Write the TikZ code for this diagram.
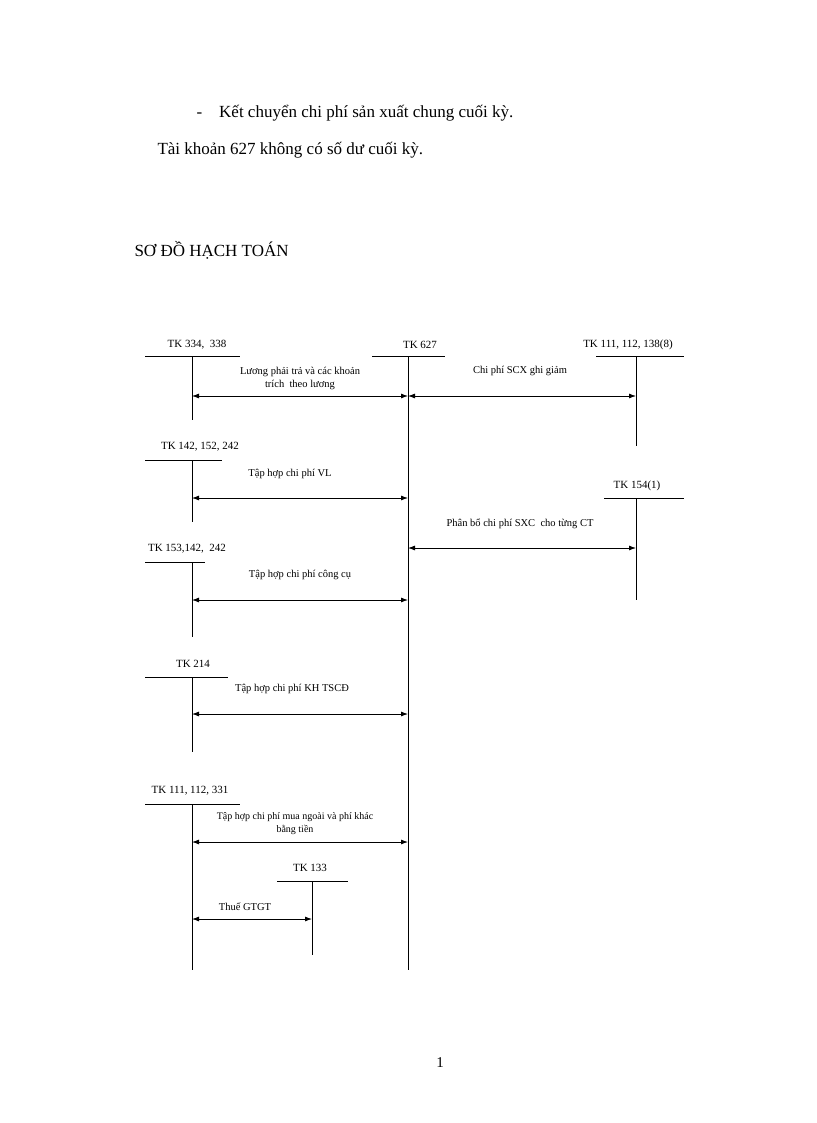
\documentclass[tikz,border=0pt]{standalone}
\usepackage{fontspec}
\setmainfont{Liberation Serif}
\usetikzlibrary{arrows.meta}
\begin{document}
\begin{tikzpicture}[x=1pt,y=-1pt,
  ln/.style={line width=0.8pt},
  ar/.style={line width=0.8pt,{Latex[length=7pt,width=5pt]}-{Latex[length=7pt,width=5pt]}},
  lb/.style={font=\fontsize{11}{12}\selectfont,inner sep=0pt},
  sm/.style={font=\fontsize{10.5}{13}\selectfont,inner sep=0pt,align=center}]
\useasboundingbox (0,0) rectangle (816,1123);
\node[anchor=west,font=\fontsize{17}{20}\selectfont] (t1) at (193,113) {-\quad Kết chuyển chi phí sản xuất chung cuối kỳ.};
\node[anchor=west,font=\fontsize{17}{20}\selectfont] (t2) at (154,150) {Tài khoản 627 không có số dư cuối kỳ.};
\node[anchor=west,font=\fontsize{17}{20}\selectfont] (t3) at (131,250) {SƠ ĐỒ HẠCH TOÁN};
\node[font=\fontsize{15}{18}\selectfont] (pg) at (440,1063) {1};
% accounts
\node[lb] (l627) at (420,345) {TK 627};
\draw[ln] (372,356) -- (445,356); \coordinate (c0) at (408,356); \coordinate (c1) at (408,970); \draw[ln] (c0) -- (c1);
\node[lb] (l334) at (197,345) {TK 334,\ \ 338};
\draw[ln] (145,356) -- (240,356); \coordinate (a0) at (192,356); \coordinate (a1) at (192,420); \draw[ln] (a0)--(a1);
\node[lb] (l111) at (628,345) {TK 111,\ 112,\ 138(8)};
\draw[ln] (596,356) -- (684,356); \coordinate (b0) at (636,356); \coordinate (b1) at (636,446); \draw[ln] (b0)--(b1);
\coordinate (a2) at (192,396); \coordinate (c2) at (408,396); \coordinate (b2) at (636,396);
\draw[ar] (a2)--(c2); \draw[ar] (c2)--(b2);
\node[sm] (s1) at (300,378) {Lương phải trả và các khoản\\trích\ \ theo lương};
\node[sm] (s2) at (520,371) {Chi\ phí SCX\ ghi giảm};
\node[lb] (l142) at (200,447) {TK 142,\ 152,\ 242};
\draw[ln] (145,460) -- (222,460); \coordinate (d0) at (192,460); \coordinate (d1) at (192,522); \draw[ln] (d0)--(d1);
\coordinate (d2) at (192,498); \coordinate (c3) at (408,498); \draw[ar] (d2)--(c3);
\node[sm] (s3) at (290,474) {Tập hợp chi phí VL};
\node[lb] (l154) at (637,486) {TK 154(1)};
\draw[ln] (604,498) -- (684,498); \coordinate (e0) at (636,498); \coordinate (e1) at (636,600); \draw[ln] (e0)--(e1);
\coordinate (e2) at (636,548); \coordinate (c4) at (408,548); \draw[ar] (c4)--(e2);
\node[sm] (s4) at (520,524) {Phân bổ chi phí SXC\ \ cho từng CT};
\node[lb] (l153) at (187,549) {TK 153,142,\ \ 242};
\draw[ln] (145,562) -- (205,562); \coordinate (f0) at (192,562); \coordinate (f1) at (192,637); \draw[ln] (f0)--(f1);
\coordinate (f2) at (192,600); \coordinate (c5) at (408,600); \draw[ar] (f2)--(c5);
\node[sm] (s5) at (300,575) {Tập hợp chi phí công cụ};
\node[lb] (l214) at (193,664) {TK 214};
\draw[ln] (145,677) -- (228,677); \coordinate (g0) at (192,677); \coordinate (g1) at (192,752); \draw[ln] (g0)--(g1);
\coordinate (g2) at (192,714); \coordinate (c6) at (408,714); \draw[ar] (g2)--(c6);
\node[sm] (s6) at (292,689) {Tập hợp chi phí KH\ TSCĐ};
\node[lb] (l331) at (190,791) {TK 111, 112, 331};
\draw[ln] (145,804) -- (240,804); \coordinate (h0) at (192,804); \coordinate (h1) at (192,970); \draw[ln] (h0)--(h1);
\coordinate (h2) at (192,842); \coordinate (c7) at (408,842); \draw[ar] (h2)--(c7);
\node[sm,font=\fontsize{10}{13}\selectfont] (s7) at (295,824) {Tập hợp chi phí mua ngoài và phí khác\\bằng tiền};
\node[lb] (l133) at (310,868) {TK 133};
\draw[ln] (277,881) -- (348,881); \coordinate (k0) at (312,881); \coordinate (k1) at (312,955); \draw[ln] (k0)--(k1);
\coordinate (h3) at (192,919); \coordinate (k2) at (312,919); \draw[ar] (h3)--(k2);
\node[sm] (s8) at (245,907) {Thuế GTGT};
\end{tikzpicture}
\end{document}
